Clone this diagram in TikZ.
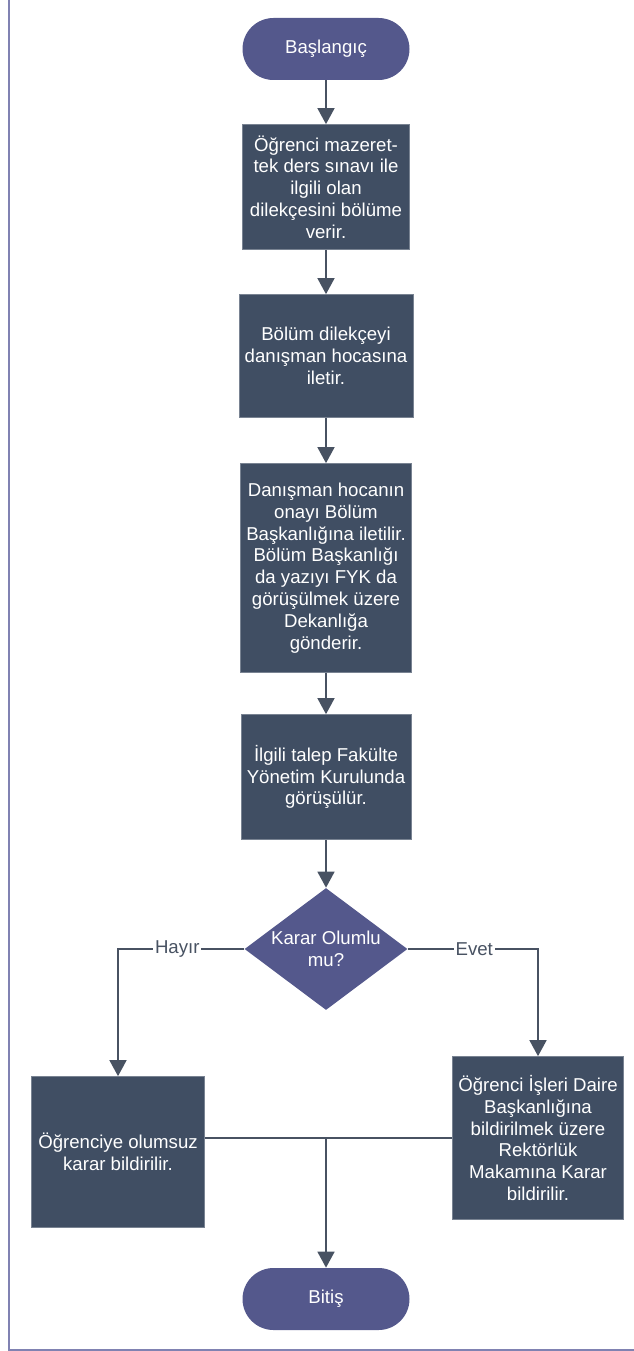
\documentclass[tikz,border=0pt]{standalone}
\usepackage{fontspec}
\setmainfont{Liberation Sans}
\usepackage{tikz}
\usetikzlibrary{positioning, arrows.meta, shapes.geometric, calc}
\definecolor{boxcolor}{RGB}{64,78,99}
\definecolor{termcolor}{RGB}{84,88,140}
\definecolor{linecolor}{RGB}{72,82,98}
\definecolor{framecolor}{RGB}{128,130,178}

\begin{document}
\begin{tikzpicture}[
    box/.style={draw=boxcolor!70!white, line width=0.4pt, fill=boxcolor, rectangle, minimum width=3.34cm, align=center, text=white, font=\fontsize{10.6}{12.4}\selectfont},
    term/.style={fill=termcolor, rectangle, rounded corners=0.62cm, minimum width=3.34cm, minimum height=1.24cm, text=white, font=\fontsize{10.6}{12.4}\selectfont},
    decision/.style={fill=termcolor, diamond, shape aspect=1.34, minimum width=3.26cm, minimum height=2.44cm, inner sep=0pt, align=center, text=white, font=\fontsize{10.6}{12.4}\selectfont},
    arrow/.style={-{Triangle[length=0.32cm, width=0.34cm]}, line width=0.9pt, linecolor},
    line/.style={line width=0.9pt, linecolor},
    lbl/.style={fill=white, inner sep=1pt, text=linecolor, font=\fontsize{10.6}{12.4}\selectfont}
]
    \useasboundingbox (0,0) rectangle (12.68,-27.02);
    % Çerçeve
    \draw[framecolor, line width=1.2pt] (0.18,0) -- (0.18,-27.0) -- (12.68,-27.0);

    % Başlangıç
    \node[term] (start) at (6.52,-0.98) {Başlangıç};

    % Adımlar
    \node[box, minimum height=2.5cm] (dilekce) at (6.52,-3.74) {Öğrenci mazeret-\\tek ders sınavı ile\\ilgili olan\\dilekçesini bölüme\\verir.};
    \node[box, minimum height=2.46cm] (bolum) at (6.52,-7.12) {Bölüm dilekçeyi\\danışman hocasına\\iletir.};
    \node[box, minimum height=4.18cm] (danisman) at (6.52,-11.36) {Danışman hocanın\\onayı Bölüm\\Başkanlığına iletilir.\\Bölüm Başkanlığı\\da yazıyı FYK da\\görüşülmek üzere\\Dekanlığa\\gönderir.};
    \node[box, minimum height=2.5cm] (fyk) at (6.52,-15.54) {İlgili talep Fakülte\\Yönetim Kurulunda\\görüşülür.};

    % Karar
    \node[decision] (karar) at (6.52,-18.98) {Karar Olumlu\\mu?};

    % Sonuçlar
    \node[box, minimum width=3.46cm, minimum height=3.02cm] (olumsuz) at (2.36,-23.04) {Öğrenciye olumsuz\\karar bildirilir.};
    \node[box, minimum width=3.3cm, minimum height=3.26cm] (olumlu) at (10.76,-22.76) {Öğrenci İşleri Daire\\Başkanlığına\\bildirilmek üzere\\Rektörlük\\Makamına Karar\\bildirilir.};

    % Bitiş
    \node[term] (bitis) at (6.52,-25.98) {Bitiş};

    % Oklar
    \draw[arrow] (start) -- (dilekce);
    \draw[arrow] (dilekce) -- (bolum);
    \draw[arrow] (bolum) -- (danisman);
    \draw[arrow] (danisman) -- (fyk);
    \draw[arrow] (fyk) -- (karar);
    \draw[arrow] (karar.west) -- node[lbl, pos=0.53] {Hayır} (karar.west -| olumsuz.north) -- (olumsuz.north);
    \draw[arrow] (karar.east) -- node[lbl, pos=0.51] {Evet} (karar.east -| olumlu.north) -- (olumlu.north);

    % Birleşme
    \coordinate (birles) at (karar.south |- olumlu.west);
    \draw[line] (olumlu.west) -- (olumsuz.east |- olumlu.west);
    \draw[arrow] (birles) -- (bitis);
\end{tikzpicture}
\end{document}
